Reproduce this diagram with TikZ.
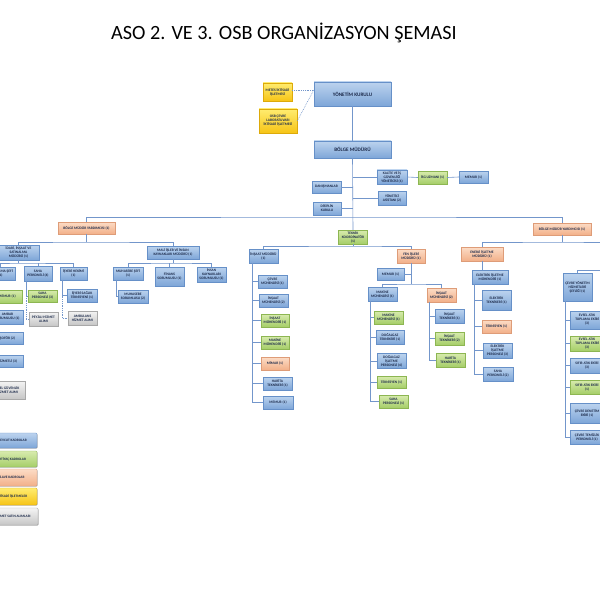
\documentclass[tikz,border=0pt]{standalone}
\usepackage{fontspec}
\setmainfont{Carlito}
\usetikzlibrary{shadows}
\definecolor{bT}{HTML}{BCD3EE}\definecolor{bB}{HTML}{7EA6D8}\definecolor{bD}{HTML}{6690C8}
\definecolor{gT}{HTML}{D8EBAE}\definecolor{gB}{HTML}{A5CE68}\definecolor{gD}{HTML}{8DB652}
\definecolor{sT}{HTML}{FCDCC6}\definecolor{sB}{HTML}{F2B089}\definecolor{sD}{HTML}{DE9C78}
\definecolor{yT}{HTML}{FFEC70}\definecolor{yB}{HTML}{F6C416}\definecolor{yD}{HTML}{DDAA0A}
\definecolor{kT}{HTML}{F4F4F4}\definecolor{kB}{HTML}{C6C6C6}\definecolor{kD}{HTML}{A8A8A8}
\definecolor{lnc}{HTML}{7396CB}
\definecolor{tx}{HTML}{1C2A4A}
\tikzset{
  box/.style={rectangle, inner sep=0.4bp, align=center, text=tx,
    font=\bfseries\fontsize{3.6}{4.0}\selectfont, line width=0.4bp,
    drop shadow={shadow xshift=0.6bp, shadow yshift=-0.6bp, opacity=0.3, fill=black}},
  bl/.style={box, draw=bD, top color=bT, bottom color=bB},
  gr/.style={box, draw=gD, top color=gT, bottom color=gB},
  sa/.style={box, draw=sD, top color=sT, bottom color=sB},
  ye/.style={box, draw=yD, top color=yT, bottom color=yB},
  gy/.style={box, draw=kD, top color=kT, bottom color=kB},
  wh/.style 2 args={minimum width=#1bp, minimum height=#2bp},
  big/.style={font=\bfseries\fontsize{5.2}{6}\selectfont},
  lgd/.style={rounded corners=1.2bp, font=\bfseries\fontsize{3.5}{4}\selectfont},
  ln/.style={draw=lnc, line width=0.6bp},
  dl/.style={draw=lnc, line width=0.5bp, dash pattern=on 0.9bp off 0.9bp},
}
\begin{document}
\begin{tikzpicture}[x=1bp,y=-1bp]
\useasboundingbox (0,0) rectangle (600,600);
\fill[white] (0,0) rectangle (600,600);
\clip (0,0) rectangle (600,600);

\node[font=\fontsize{20.3}{24}\selectfont, text=black] (title) at (284,33) {ASO 2. VE 3. OSB ORGANİZASYON ŞEMASI};

% top
\node[bl,big,wh={77}{24}] (yk) at (352.5,94) {YÖNETİM KURULU};
\node[ye,wh={29}{18}] (metes) at (277.5,92) {METES İKTİSADİ\\İŞLETMESİ};
\node[ye,wh={38}{24}] (lab) at (278,121) {OSB ÇEVRE\\LABORATUVARI\\İKTİSADİ İŞLETMESİ};
\node[bl,big,wh={77}{17}] (bm) at (352.5,149.5) {BÖLGE MÜDÜRÜ};
\node[bl,wh={30}{14}] (kalite) at (392,177) {KALİTE VE İŞ\\GÜVENLİĞİ\\YÖNETİCİSİ (1)};
\node[gr,wh={29}{13}] (isg) at (432.5,177.5) {İSG UZMANI (1)};
\node[bl,wh={29}{12}] (memur0) at (473.5,177) {MEMUR (1)};
\node[bl,wh={28}{14}] (asistan) at (392,198) {YÖNETİCİ\\ASİSTANI (2)};
\node[bl,wh={29}{12}] (danis) at (326.5,187) {DANIŞMANLAR};
\node[bl,wh={28}{13}] (disiplin) at (327,208.5) {DİSİPLİN\\KURULU};

% second level
\node[sa,wh={57}{12}] (bmy1) at (86.5,228) {BÖLGE MÜDÜR YARDIMCISI (1)};
\node[gr,wh={29}{14}] (tk) at (353,237) {TEKNİK\\KOORDİNATÖR\\(1)};
\node[sa,wh={58}{12}] (bmy2) at (562,229) {BÖLGE MÜDÜR YARDIMCISI (1)};

% left branch
\node[bl,wh={42}{15}] (idari) at (18.5,252.5) {İDARİ, İNŞAAT VE\\SATINALMA\\MÜDÜRÜ (1)};
\node[bl,wh={52}{13}] (mali) at (173,252.5) {MALİ İŞLER VE İNSAN\\KAYNAKLARI MÜDÜRÜ (1)};
\node[bl,wh={29}{13}] (sef) at (0.5,273.5) {SATINALMA ŞEFİ\\(1)};
\node[bl,wh={28}{15}] (saha4) at (38,273.5) {SAHA\\PERSONELİ (4)};
\node[bl,wh={27}{13}] (hekim) at (73.5,273.5) {İŞYERİ HEKİMİ\\(1)};
\node[gr,wh={29}{12}] (saha3) at (42.5,296) {SAHA\\PERSONELİ (3)};
\node[gy,wh={29}{14}] (peyzaj) at (43.5,319) {PEYZAJ HİZMET\\ALIMI};
\node[bl,wh={30}{13}] (saglik) at (82,295.5) {İŞYERİ SAĞLIK\\TEKNİSYENİ (1)};
\node[gy,wh={29}{14}] (ambulans) at (82.5,318) {AMBULANS\\HİZMET ALIMI};
\node[gr,wh={30}{13}] (memurL) at (7,296.5) {MEMUR (1)};
\node[bl,wh={31}{14}] (ambar) at (7.5,317) {AMBAR\\SORUMLUSU (1)};
\node[bl,wh={31}{12}] (sofor) at (7.5,338) {ŞOFÖR (2)};
\node[bl,wh={31}{12}] (hizmetli) at (7.5,361) {HİZMETLİ (3)};
\node[gy,wh={35}{18}] (guvenlik) at (7.5,390) {ÖZEL GÜVENLİK\\HİZMET ALIMI};
\node[bl,wh={30}{13}] (muhsef) at (128,273.5) {MUHASEBE ŞEFİ\\(1)};
\node[bl,wh={29}{19}] (finans) at (169.5,276.5) {FİNANS\\SORUMLUSU (1)};
\node[bl,wh={29}{15}] (ik) at (211.5,274.5) {İNSAN\\KAYNAKLARI\\SORUMLUSU (1)};
\node[bl,wh={30}{13}] (muhsor) at (133,296.5) {MUHASEBE\\SORUMLUSU (2)};

% center branch
\node[bl,wh={29}{14}] (insm) at (263.5,256) {İNŞAAT MÜDÜRÜ\\(1)};
\node[sa,wh={28}{14}] (fen) at (411,256) {FEN İŞLERİ\\MÜDÜRÜ (1)};
\node[bl,wh={29}{13}] (cevrem) at (272.5,281.5) {ÇEVRE\\MÜHENDİSİ (1)};
\node[bl,wh={29}{13}] (insmuh2) at (273.5,300.5) {İNŞAAT\\MÜHENDİSİ (2)};
\node[gr,wh={28}{13}] (insmuh1) at (275,320.5) {İNŞAAT\\MÜHENDİSİ (1)};
\node[gr,wh={28}{13}] (makmuh) at (275,342.5) {MAKİNE\\MÜHENDİSİ (1)};
\node[sa,wh={28}{13}] (mimar) at (275,363.5) {MİMAR (1)};
\node[bl,wh={29}{13}] (harita1) at (277.5,383.5) {HARİTA\\TEKNİKERİ (1)};
\node[bl,wh={30}{13}] (memur2) at (278,402.5) {MEMUR (1)};
\node[bl,wh={27}{12}] (memur3) at (390.5,274) {MEMUR (1)};
\node[bl,wh={29}{14}] (makmuh2) at (382.5,294) {MAKİNE\\MÜHENDİSİ (1)};
\node[sa,wh={29}{14}] (insmuh3) at (441.5,295) {İNŞAAT\\MÜHENDİSİ (2)};
\node[gr,wh={29}{13}] (makmuh3) at (388.5,317.5) {MAKİNE\\MÜHENDİSİ (1)};
\node[bl,wh={28}{14}] (dgtek) at (390,337) {DOĞALGAZ\\TEKNİKERİ (1)};
\node[bl,wh={29}{15}] (dgper) at (391.5,361) {DOĞALGAZ\\İŞLETME\\PERSONELİ (4)};
\node[gr,wh={29}{12}] (teks1) at (391.5,382) {TEKNİSYEN (1)};
\node[gr,wh={29}{13}] (saha1) at (393.5,401.5) {SAHA\\PERSONELİ (1)};
\node[bl,wh={29}{14}] (instek1) at (449.5,316) {İNŞAAT\\TEKNİKERİ (1)};
\node[gr,wh={29}{13}] (instek2) at (449.5,338.5) {İNŞAAT\\TEKNİKERİ (2)};
\node[gr,wh={29}{14}] (harita2) at (450.5,360) {HARİTA\\TEKNİKERİ (1)};

% right branch
\node[sa,wh={42}{14}] (enerji) at (482,254) {ENERJİ İŞLETME\\MÜDÜRÜ (1)};
\node[bl,wh={36}{14}] (elmuh) at (490,277) {ELEKTRİK İŞLETME\\MÜHENDİSİ (1)};
\node[bl,wh={29}{20}] (eltek) at (496.5,300) {ELEKTRİK\\TEKNİKERİ (1)};
\node[sa,wh={29}{13}] (teks2) at (496.5,326.5) {TEKNİSYEN (1)};
\node[bl,wh={29}{15}] (elper) at (497.5,350.5) {ELEKTRİK\\İŞLETME\\PERSONELİ (3)};
\node[bl,wh={30}{14}] (saha2) at (498,374) {SAHA\\PERSONELİ (2)};
\node[bl,wh={29}{28}] (cevrey) at (577.5,287) {ÇEVRE YÖNETİM\\HİZMETLERİ\\ŞEFLİĞİ (1)};
\node[bl,wh={34}{18}] (evsel1) at (587,320) {EVSEL ATIK\\TOPLAMA EKİBİ\\(3)};
\node[gr,wh={34}{15}] (evsel2) at (587,343.5) {EVSEL ATIK\\TOPLAMA EKİBİ\\(3)};
\node[bl,wh={34}{15}] (sifir1) at (587,365.5) {SIFIR ATIK EKİBİ\\(3)};
\node[gr,wh={34}{14}] (sifir2) at (587,387) {SIFIR ATIK EKİBİ\\(1)};
\node[bl,wh={34}{20}] (denetim) at (587,413) {ÇEVRE DENETİM\\EKİBİ (1)};
\node[bl,wh={34}{14}] (temizlik) at (587,437) {ÇEVRE TEMİZLİK\\PERSONELİ (1)};

% legend
\node[bl,lgd,wh={50}{15}] (lg1) at (12,440.5) {MEVCUT KADROLAR};
\node[gr,lgd,wh={50}{16}] (lg2) at (12,459) {İHTİYAÇ KADROLAR};
\node[sa,lgd,wh={50}{17}] (lg3) at (12,477.5) {İLAVE KADROLAR};
\node[ye,lgd,wh={50}{17}] (lg4) at (12,496.5) {İKTİSADİ İŞLETMELER};
\node[gy,lgd,wh={50}{17}] (lg5) at (13,516.5) {HİZMET SATIN ALIMLARI};

% ---------------- connectors
\coordinate (ykj) at ([yshift=4bp]yk.west);
\draw[dl] (metes.east |- ykj) -- (ykj);
\draw[dl] (lab.east) -- (ykj);
\draw[ln] (yk.south) -- (bm.north);
\coordinate (hub) at (352.5,217);
\draw[ln] (bm.south) -- (tk.north);
\draw[ln] (kalite.west) -- (kalite.west -| hub);
\draw[ln] (kalite.east) -- (isg.west);
\draw[ln] (isg.east) -- (memur0.west);
\draw[ln] (asistan.west) -- (asistan.west -| hub);
\draw[ln] (danis.east) -- (danis.east -| hub);
\draw[ln] (disiplin.east) -- (disiplin.east -| hub);
\draw[ln] (bmy1.north) |- (hub) -| (bmy2.north);

% left
\coordinate (j1) at (86.5,242);
\draw[ln] (bmy1.south) -- (j1);
\draw[ln] (idari.north) |- (j1) -| (mali.north);
\coordinate (j2) at (18.5,263);
\draw[ln] (idari.south) -- (j2);
\draw[ln] (sef.north) |- (j2) -| (hekim.north);
\draw[ln] (saha4.north) -- (saha4.north |- j2);
\coordinate (s4) at ([xshift=2bp]saha4.south west);
\draw[ln] (s4) |- (saha3.west);
\draw[dl] (s4 |- saha3.west) |- (peyzaj.west);
\coordinate (hk) at ([xshift=2bp]hekim.south west);
\draw[ln] (hk) |- (saglik.west);
\draw[dl] (hk |- saglik.west) |- (ambulans.west);
\coordinate (sf) at ([xshift=2bp]sef.south west);
\draw[ln] (sf) |- (memurL.west);
\draw[ln] (sf) |- (ambar.west);
\draw[ln] (sf) |- (sofor.west);
\draw[ln] (sf) |- (hizmetli.west);
\draw[dl] (sf |- hizmetli.west) |- (guvenlik.west);
\coordinate (j6) at (173,263);
\draw[ln] (mali.south) -- (j6);
\draw[ln] (muhsef.north) |- (j6) -| (ik.north);
\draw[ln] (finans.north) -- (finans.north |- j6);
\coordinate (ms) at ([xshift=3bp]muhsef.south west);
\draw[ln] (ms) |- (muhsor.west);

% center
\coordinate (j3) at (353,246);
\draw[ln] (tk.south) -- (j3);
\draw[ln] (insm.north) |- (j3) -| (fen.north);
\coordinate (im) at ([xshift=3bp]insm.south west);
\foreach \n in {cevrem,insmuh2,insmuh1,makmuh,mimar,harita1,memur2} {\draw[ln] (im) |- (\n.west);}
\coordinate (j4) at (411,284);
\draw[ln] (fen.south) -- (j4);
\draw[ln] (memur3.east) -- (memur3.east -| j4);
\draw[ln] (makmuh2.north) |- (j4) -| (insmuh3.north);
\coordinate (mk) at ([xshift=2bp]makmuh2.south west);
\foreach \n in {makmuh3,dgtek,dgper,teks1,saha1} {\draw[ln] (mk) |- (\n.west);}
\coordinate (ik3) at ([xshift=2bp]insmuh3.south west);
\foreach \n in {instek1,instek2,harita2} {\draw[ln] (ik3) |- (\n.west);}

% right
\coordinate (j5) at (562,242);
\coordinate (rEnd) at (606,242);
\draw[ln] (bmy2.south) -- (j5);
\draw[ln] (enerji.north) |- (j5) -- (rEnd);
\draw[ln] (enerji.south) -- (enerji.south |- elmuh.north);
\coordinate (em) at ([xshift=2bp]elmuh.south west);
\foreach \n in {eltek,teks2,elper,saha2} {\draw[ln] (em) |- (\n.west);}
\coordinate (rc) at (606,270);
\draw[ln] (rc) -| (cevrey.north);
\coordinate (cy) at ([xshift=2bp]cevrey.south west);
\foreach \n in {evsel1,evsel2,sifir1,sifir2,denetim,temizlik} {\draw[ln] (cy) |- (\n.west);}
\end{tikzpicture}
\end{document}
